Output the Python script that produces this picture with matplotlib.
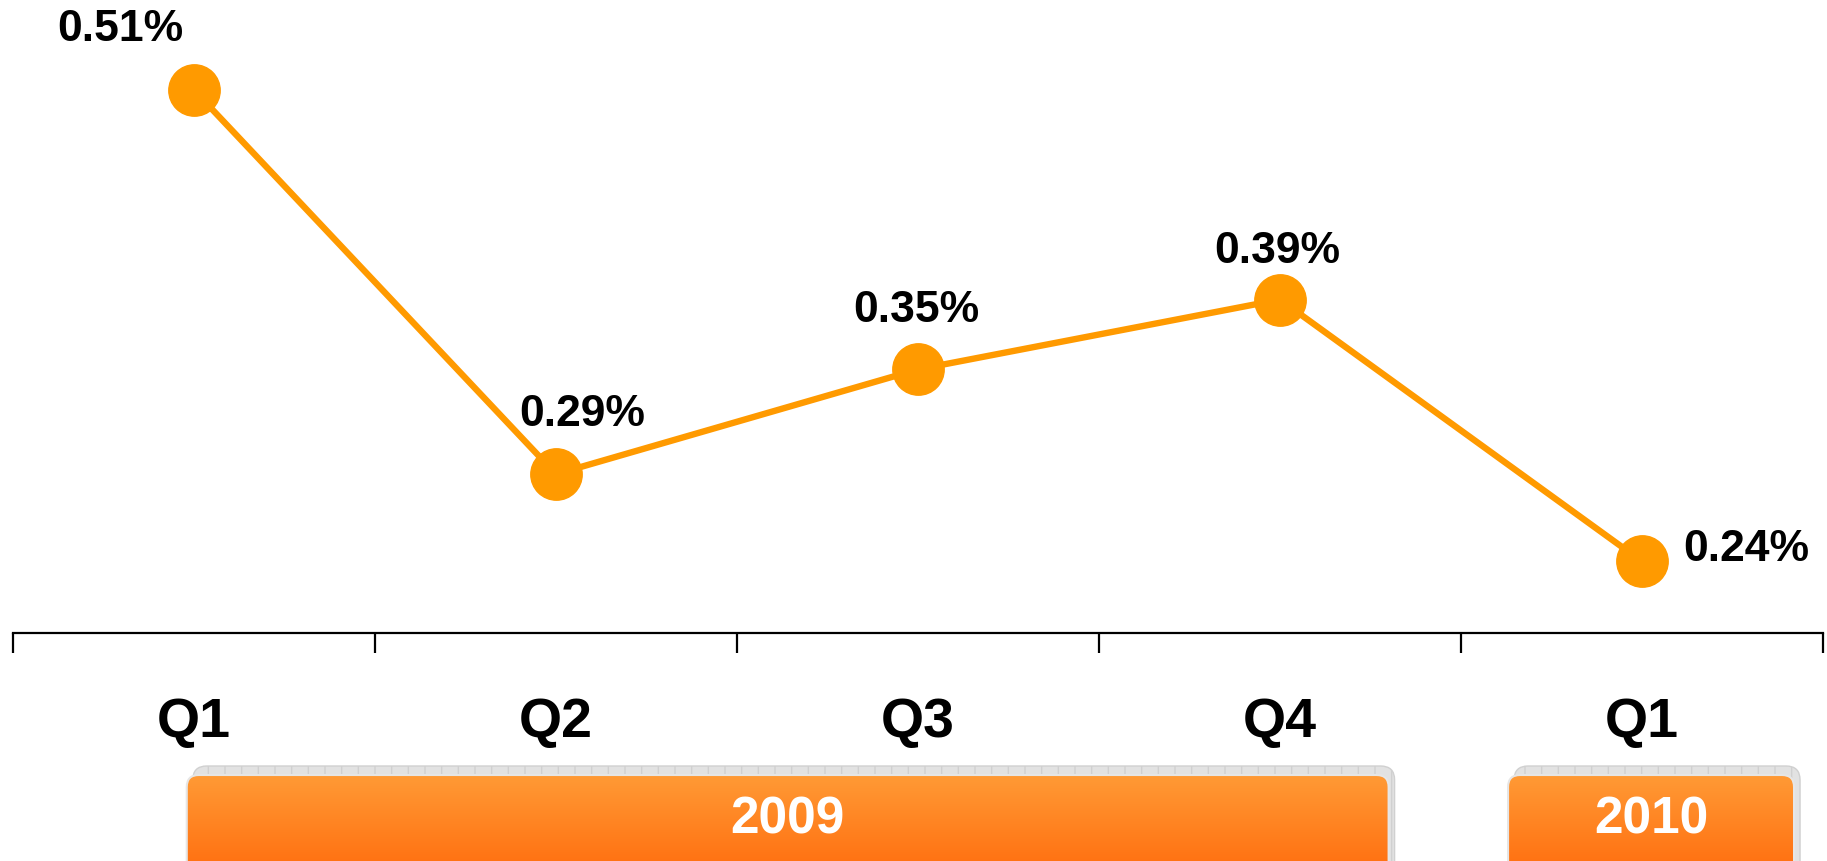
import matplotlib
matplotlib.use("Agg")
import matplotlib.pyplot as plt
import numpy as np
from matplotlib.patches import FancyBboxPatch

# ---------------------------------------------------------
# Data
# ---------------------------------------------------------
quarters = ["Q1", "Q2", "Q3", "Q4", "Q1"]
rates = [0.51, 0.29, 0.35, 0.39, 0.24]
years = ["2009", "2010"]

# ---------------------------------------------------------
# Layout / style
# ---------------------------------------------------------
W, H, DPI = 1827, 861, 100
LINE_COLOR = "#FF9A00"
FONT = "Liberation Sans"
plt.rcParams["hatch.color"] = "#CCCCCC"

# label offsets from each point, in pixels
label_offsets = [(-74, 61), (26, 60), (-2, 59), (-3, 48), (104, 12)]
# year banner spans in category units
year_spans = [(-0.02, 3.30), (3.63, 4.42)]

fig = plt.figure(figsize=(W / DPI, H / DPI), dpi=DPI)

# main axis: bottom spine at y=633 px from the top
ax = fig.add_axes([13 / W, (H - 633) / H, 1810 / W, 633 / H])
x = np.arange(len(rates))
ax.plot(x, rates, color=LINE_COLOR, lw=4.6, marker="o", ms=37,
        mfc=LINE_COLOR, mec=LINE_COLOR, zorder=3, clip_on=False)

for xi, r, (dx, dy) in zip(x, rates, label_offsets):
    ax.annotate(f"{r:.2f}%", (xi, r), xytext=(dx, dy), textcoords="offset pixels",
                ha="center", va="center", fontsize=32, fontweight="bold",
                family=FONT, color="black")

ax.set_xlim(-0.5, len(rates) - 0.5)
ax.set_ylim(0.199, 0.5616)
ax.set_xticks(np.arange(len(rates) + 1) - 0.5)
ax.set_xticklabels([])
ax.set_xticks(x, minor=True)
ax.set_xticklabels(quarters, minor=True, fontsize=40, fontweight="bold", family=FONT)
ax.tick_params(axis="x", which="major", direction="out", length=14.4, width=1.6, color="black")
ax.tick_params(axis="x", which="minor", length=0, pad=46)
ax.set_yticks([])
for s in ["top", "left", "right"]:
    ax.spines[s].set_visible(False)
ax.spines["bottom"].set_linewidth(1.6)
ax.patch.set_alpha(0)

# overlay axes in pixel units for the year banners
bx = fig.add_axes([0, 0, 1, 1], zorder=-1)
bx.set_xlim(0, W)
bx.set_ylim(0, H)
bx.axis("off")

grad = np.linspace(0, 1, 256).reshape(-1, 1)
cmap = matplotlib.colors.LinearSegmentedColormap.from_list("ban", ["#FF6A0C", "#FF9A35"])

fig.canvas.draw()
for year, (x0, x1) in zip(years, year_spans):
    px0 = ax.transData.transform((x0, 0))[0]
    px1 = ax.transData.transform((x1, 0))[0]
    top = H - 775
    bot = -20
    # shadow
    sh = FancyBboxPatch((px0 + 6, bot), px1 - px0, top + 9 - bot,
                        boxstyle="round,pad=0,rounding_size=14",
                        fc="#E2E2E2", ec="#D0D0D0", lw=1, hatch="|",
                        zorder=1)
    bx.add_patch(sh)
    box = FancyBboxPatch((px0, bot), px1 - px0, top - bot,
                         boxstyle="round,pad=0,rounding_size=12",
                         fc="none", ec="#E6E6E6", lw=1.5, zorder=3)
    bx.add_patch(box)
    im = bx.imshow(grad, cmap=cmap, origin="lower", aspect="auto",
                   extent=(px0, px1, bot, top), zorder=2)
    im.set_clip_path(box)
    bx.text((px0 + px1) / 2, H - 820, year, ha="center", va="center",
            fontsize=37, fontweight="bold", family=FONT, color="white", zorder=4)

bx.set_xlim(0, W)
bx.set_ylim(0, H)

fig.savefig("out.png", dpi=DPI)
